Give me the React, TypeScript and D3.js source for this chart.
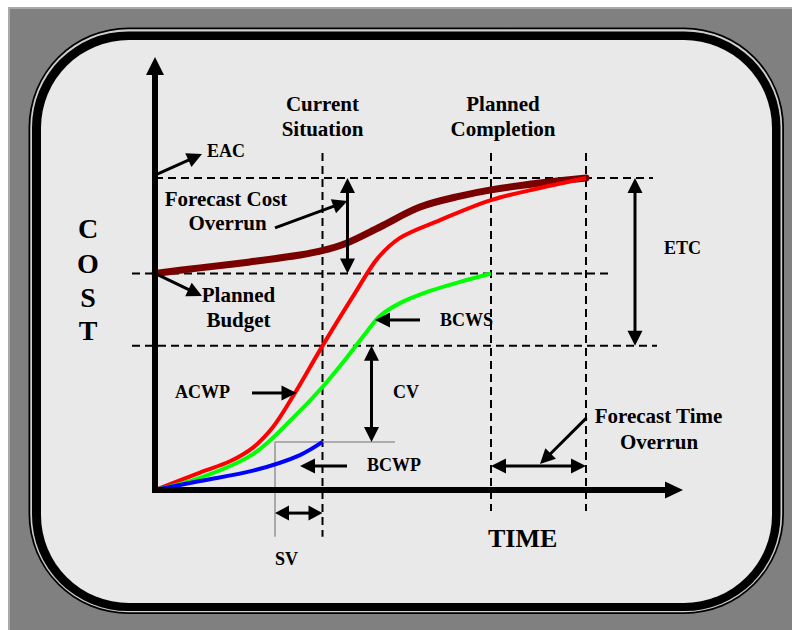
import React from "react";
import * as d3 from "d3";

const W = 792;
const H = 630;

// Time axis units (0 = project start) and cost units (100 = EAC)
const milestoneNames = ["Current Situation", "Planned Completion", "Forecast Completion"];
const milestoneTimes = [33.5, 67.2, 86.2];

const levelNames = ["EAC", "Planned Budget", "ACWP now", "BCWP now"];
const levelCosts = [100, 69.4, 46.2, 15.4];

// Forecast (EAC) curve
const eacTime = [0, 9, 19, 29, 33.4, 38.4, 45, 53, 61, 67.2, 77, 86.2];
const eacCost = [69.4, 71.2, 73.1, 75.3, 76.7, 79.2, 84.3, 90.7, 94.2, 96.2, 98.4, 100];

// ACWP (actual cost)
const acwpTime = [0, 9, 15, 19.6, 23.6, 27.6, 33.5, 40, 44.6, 49, 57, 67.2, 77, 86.2];
const acwpCost = [0, 5.6, 9.2, 13.6, 20.2, 30.1, 46.2, 63.1, 74.4, 80.8, 86.5, 92.9, 96.8, 100];

// BCWS (planned value)
const bcwsTime = [0, 9, 19.6, 27.6, 33.5, 38, 42, 45, 49, 55, 61, 67.2];
const bcwsCost = [0, 3.9, 11.5, 23.1, 33, 41.7, 50, 55.8, 59.9, 63.8, 66.7, 69.4];

// BCWP (earned value)
const bcwpTime = [0, 9, 19.6, 29, 33.5];
const bcwpCost = [0, 2.9, 6.2, 11.2, 15.4];

const FONT = "'Liberation Serif', 'Times New Roman', serif";

function zip(a: number[], b: number[]) {
  return a.map((t, i) => [t, b[i]] as [number, number]);
}

type ArrowProps = {
  x1: number; y1: number; x2: number; y2: number;
  double?: boolean; width?: number; len?: number; hw?: number; color?: string;
};

function Arrow({ x1, y1, x2, y2, double = false, width = 3, len = 15, hw = 7.5, color = "#000" }: ArrowProps) {
  const dx = x2 - x1;
  const dy = y2 - y1;
  const L = Math.hypot(dx, dy);
  const ux = dx / L;
  const uy = dy / L;
  const px = -uy;
  const py = ux;
  const head = (tx: number, ty: number, dirx: number, diry: number) => {
    const bx = tx - dirx * len;
    const by = ty - diry * len;
    return `${tx},${ty} ${bx + px * hw},${by + py * hw} ${bx - px * hw},${by - py * hw}`;
  };
  const sx = double ? x1 + ux * (len - 2) : x1;
  const sy = double ? y1 + uy * (len - 2) : y1;
  const ex = x2 - ux * (len - 2);
  const ey = y2 - uy * (len - 2);
  return (
    <g>
      <line x1={sx} y1={sy} x2={ex} y2={ey} stroke={color} strokeWidth={width} />
      <polygon points={head(x2, y2, ux, uy)} fill={color} />
      {double && <polygon points={head(x1, y1, -ux, -uy)} fill={color} />}
    </g>
  );
}

export default function App() {
  const x = d3.scaleLinear().domain([0, 100]).range([155, 655]);
  const y = d3.scaleLinear().domain([0, 100]).range([490, 178]);

  const line = d3
    .line<[number, number]>()
    .x((d) => x(d[0]))
    .y((d) => y(d[1]))
    .curve(d3.curveCatmullRom.alpha(0.5));

  const [tCur, tPlan, tFore] = milestoneTimes;
  const [cEac, cBudget, cAcwp, cBcwp] = levelCosts;

  const dash = "8,5";

  const textStyle: React.CSSProperties = { fontFamily: FONT, fontWeight: "bold", fill: "#000" };

  const label = (txt: string, tx: number, ty: number, size: number, anchor: "start" | "middle" = "start") => (
    <text x={tx} y={ty} fontSize={size} textAnchor={anchor} style={textStyle}>
      {txt}
    </text>
  );

  return (
    <svg
      width={W}
      height={H}
      viewBox={`0 0 ${W} ${H}`}
      style={{ position: "absolute", left: 0, top: 0, display: "block" }}
    >
      {/* Background and frame */}
      <rect x={0} y={0} width={W} height={H} fill="#ffffff" />
      <rect x={8} y={7} width={W - 8} height={H - 7} fill="#a9a9a9" />
      <rect x={10} y={9} width={W - 10} height={H - 9} fill="#808080" />
      <rect x={28.5} y={27.5} width={755.5} height={586.5} rx={100} ry={100} fill="#000" />
      <rect x={30.3} y={29.3} width={751.9} height={582.9} rx={98} ry={98} fill="#cfcfcf" />
      <rect x={32} y={31.5} width={748.5} height={579.5} rx={96} ry={96} fill="#000" />
      <rect x={41} y={40} width={731} height={563} rx={88} ry={88} fill="#e9e9e9" />

      {/* Dashed guide lines */}
      <g stroke="#000" strokeWidth={2} strokeDasharray={dash} fill="none">
        <line x1={x(0)} x2={x(99.6)} y1={y(cEac)} y2={y(cEac)} />
        <line x1={x(-4.6)} x2={x(91.2)} y1={y(cBudget)} y2={y(cBudget)} />
        <line x1={x(-4.6)} x2={x(100.4)} y1={y(cAcwp)} y2={y(cAcwp)} />
        <line x1={x(tCur)} x2={x(tCur)} y1={y(108)} y2={y(-15)} />
        <line x1={x(tPlan)} x2={x(tPlan)} y1={y(108)} y2={y(-6.7)} />
        <line x1={x(tFore)} x2={x(tFore)} y1={y(108)} y2={y(-6.7)} />
      </g>

      {/* Gray SV / BCWP reference lines */}
      <g stroke="#999" strokeWidth={1.6} fill="none">
        <line x1={x(24)} x2={x(48)} y1={y(cBcwp)} y2={y(cBcwp)} />
        <line x1={x(24)} x2={x(24)} y1={y(cBcwp)} y2={y(-15)} />
      </g>

      {/* Curves */}
      <path d={line(zip(eacTime, eacCost)) || ""} fill="none" stroke="#7a0000" strokeWidth={7} strokeLinecap="round" />
      <path d={line(zip(acwpTime, acwpCost)) || ""} fill="none" stroke="#ff0000" strokeWidth={4} />
      <path d={line(zip(bcwsTime, bcwsCost)) || ""} fill="none" stroke="#00ff00" strokeWidth={4} />
      <path d={line(zip(bcwpTime, bcwpCost)) || ""} fill="none" stroke="#0000ff" strokeWidth={4} />

      {/* Axes */}
      <Arrow x1={x(0)} y1={y(0) + 3} x2={x(0)} y2={y(138.8)} width={6} len={18} hw={9} />
      <Arrow x1={x(0) - 3} y1={y(0)} x2={x(105.6)} y2={y(0)} width={6} len={18} hw={8.5} />

      {/* Annotation arrows */}
      <Arrow x1={x(96)} y1={y(cEac)} x2={x(96)} y2={y(cAcwp)} double />
      <Arrow x1={x(43.3)} y1={y(cAcwp)} x2={x(43.3)} y2={y(cBcwp)} double />
      <Arrow x1={x(38.5)} y1={y(cEac)} x2={x(38.5)} y2={y(cBudget)} double />
      <Arrow x1={x(24)} y1={y(-7.4)} x2={x(tCur)} y2={y(-7.4)} double len={14} />
      <Arrow x1={x(tPlan)} y1={y(7.7)} x2={x(tFore)} y2={y(7.7)} double />

      <Arrow x1={x(0)} y1={y(100.9)} x2={x(9.4)} y2={y(107.7)} />
      <Arrow x1={x(0)} y1={y(cBudget)} x2={x(9.4)} y2={y(62.2)} />
      <Arrow x1={x(24)} y1={y(84)} x2={x(38.5)} y2={y(92.6)} />
      <Arrow x1={x(86.3)} y1={y(23.1)} x2={x(77)} y2={y(8.3)} />
      <Arrow x1={x(19.4)} y1={y(31.1)} x2={x(28.3)} y2={y(31.1)} />
      <Arrow x1={x(53)} y1={y(54.5)} x2={x(44)} y2={y(54.5)} />
      <Arrow x1={x(38.4)} y1={y(7.7)} x2={x(29)} y2={y(7.7)} />

      {/* Headers */}
      {label("Current", x(tCur), 111, 21, "middle")}
      {label("Situation", x(tCur), 136, 21, "middle")}
      {label("Planned", 503, 111, 21, "middle")}
      {label("Completion", 503, 136, 21, "middle")}

      {/* COST */}
      {label("C", 88, 238, 28, "middle")}
      {label("O", 88, 273, 28, "middle")}
      {label("S", 88, 307, 28, "middle")}
      {label("T", 88, 340, 28, "middle")}

      {/* Labels */}
      {label("EAC", 207, 157, 18)}
      {label("Forecast Cost", 226, 206, 21, "middle")}
      {label("Overrun", 227.5, 230, 21, "middle")}
      {label("Planned", 238.5, 302, 21, "middle")}
      {label("Budget", 238.5, 327, 21, "middle")}
      {label("ACWP", 175, 398, 18)}
      {label("BCWS", 440, 326, 18)}
      {label("CV", 393, 398, 18)}
      {label("BCWP", 367, 471, 18)}
      {label("SV", 275, 565, 18)}
      {label("ETC", 664, 254, 18)}
      {label("Forecast Time", 658.5, 423, 21, "middle")}
      {label("Overrun", 659, 449, 21, "middle")}
      {label("TIME", 488, 547, 26)}
    </svg>
  );
}
